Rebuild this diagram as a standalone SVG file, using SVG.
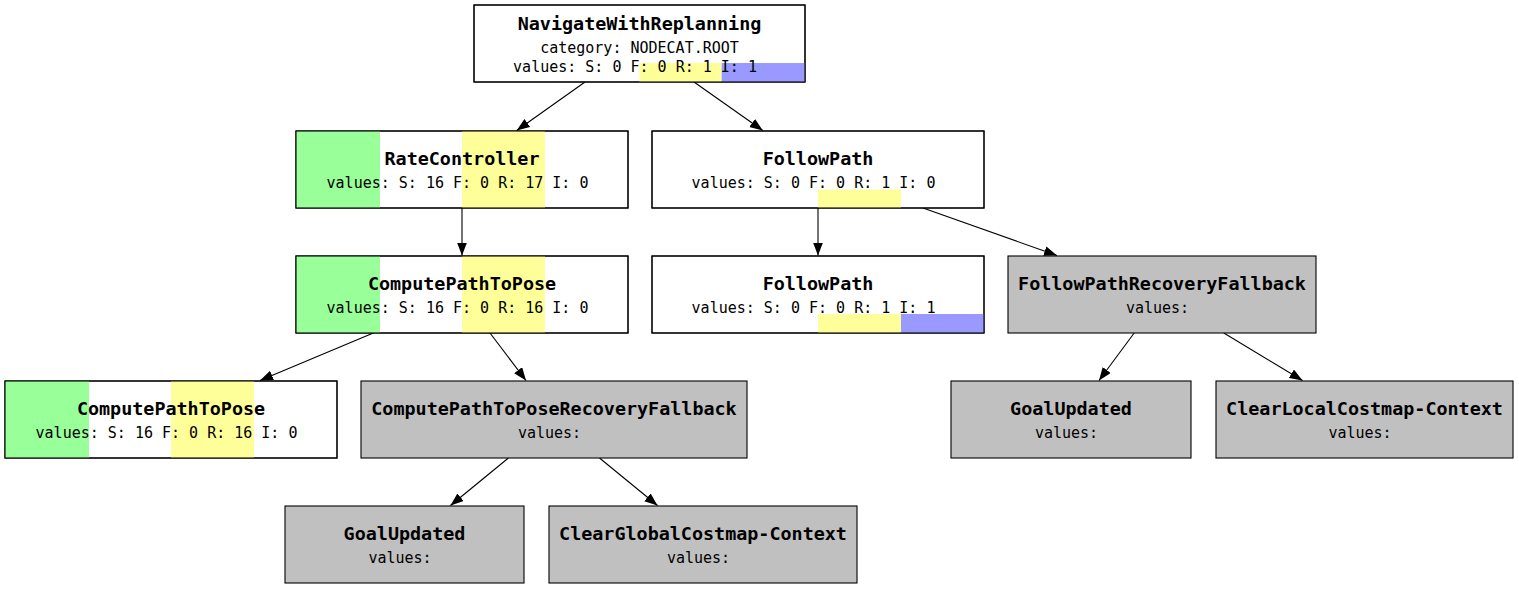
<svg xmlns="http://www.w3.org/2000/svg" width="1519" height="589" viewBox="0 0 1519 589">
<style>
.box{fill:#ffffff;stroke:#000;stroke-width:1.1}
.gbox{fill:#c0c0c0;stroke:#000;stroke-width:1.1}
.bord{fill:none;stroke:#000;stroke-width:1.1}
.g{fill:#99ff99}
.y{fill:#ffff99}
.b{fill:#9999ff}
.t{font-family:"DejaVu Sans Mono",monospace;font-weight:bold;font-size:18.4px;text-anchor:middle;fill:#000}
.v{font-family:"DejaVu Sans Mono",monospace;font-size:15px;text-anchor:middle;fill:#000}
.e{stroke:#000;stroke-width:1.1;fill:none;marker-end:url(#arr)}
</style>
<defs>
<marker id="arr" markerUnits="userSpaceOnUse" markerWidth="14" markerHeight="11" refX="13" refY="5" orient="auto">
<path d="M0,0 L13,5 L0,10 z" fill="#000"/>
</marker>
</defs>
<rect width="1519" height="589" fill="#fff"/>
<g id="connectors">
<line class="e" x1="585" y1="82" x2="516.7" y2="130.5"/>
<line class="e" x1="694" y1="82" x2="762.8" y2="130.5"/>
<line class="e" x1="462" y1="208" x2="462" y2="255.5"/>
<line class="e" x1="818" y1="208" x2="818" y2="255.5"/>
<line class="e" x1="923" y1="208" x2="1057" y2="255.5"/>
<line class="e" x1="373.3" y1="333" x2="260" y2="380.5"/>
<line class="e" x1="490" y1="333" x2="526" y2="380.5"/>
<line class="e" x1="508.4" y1="458" x2="450.5" y2="505.5"/>
<line class="e" x1="599.5" y1="458" x2="657.5" y2="505.5"/>
<line class="e" x1="1134.2" y1="333" x2="1099" y2="380.5"/>
<line class="e" x1="1223.8" y1="333" x2="1302.5" y2="380.5"/>
</g>
<g id="n_root">
<rect class="box" x="474" y="5" width="331" height="77"/>
<rect class="y" x="639.3" y="63" width="82.4" height="19"/>
<rect class="b" x="721.7" y="63" width="83.3" height="19"/>
<rect class="bord" x="474" y="5" width="331" height="77"/>
<text class="t" x="639.5" y="29.5">NavigateWithReplanning</text>
<text class="v" x="639.5" y="52.5">category: NODECAT.ROOT</text>
<text class="v" x="635" y="72">values: S: 0 F: 0 R: 1 I: 1</text>
</g>
<g id="n_ratecontroller">
<rect class="box" x="296" y="131" width="332" height="77"/>
<rect class="g" x="296" y="131" width="84" height="77"/>
<rect class="y" x="462" y="131" width="83" height="77"/>
<rect class="bord" x="296" y="131" width="332" height="77"/>
<text class="t" x="462" y="164.5">RateController</text>
<text class="v" x="457.5" y="188">values: S: 16 F: 0 R: 17 I: 0</text>
</g>
<g id="n_followpath">
<rect class="box" x="652" y="131" width="332" height="77"/>
<rect class="y" x="818" y="189.5" width="83" height="18.5"/>
<rect class="bord" x="652" y="131" width="332" height="77"/>
<text class="t" x="818" y="164.5">FollowPath</text>
<text class="v" x="813.5" y="188">values: S: 0 F: 0 R: 1 I: 0</text>
</g>
<g id="n_computepath">
<rect class="box" x="296" y="256" width="332" height="77"/>
<rect class="g" x="296" y="256" width="84" height="77"/>
<rect class="y" x="462" y="256" width="83" height="77"/>
<rect class="bord" x="296" y="256" width="332" height="77"/>
<text class="t" x="462" y="289.5">ComputePathToPose</text>
<text class="v" x="457.5" y="313">values: S: 16 F: 0 R: 16 I: 0</text>
</g>
<g id="n_followpath2">
<rect class="box" x="652" y="256" width="332" height="77"/>
<rect class="y" x="818" y="314" width="83" height="19"/>
<rect class="b" x="901" y="314" width="83" height="19"/>
<rect class="bord" x="652" y="256" width="332" height="77"/>
<text class="t" x="818" y="289.5">FollowPath</text>
<text class="v" x="813.5" y="313">values: S: 0 F: 0 R: 1 I: 1</text>
</g>
<g id="n_fprf">
<rect class="gbox" x="1008" y="256" width="308" height="77"/>
<text class="t" x="1162" y="289.5">FollowPathRecoveryFallback</text>
<text class="v" x="1157.5" y="313">values:</text>
</g>
<g id="n_computepath_leaf">
<rect class="box" x="5" y="381" width="332" height="77"/>
<rect class="g" x="5" y="381" width="84" height="77"/>
<rect class="y" x="171" y="381" width="83" height="77"/>
<rect class="bord" x="5" y="381" width="332" height="77"/>
<text class="t" x="171" y="414.5">ComputePathToPose</text>
<text class="v" x="166.5" y="438">values: S: 16 F: 0 R: 16 I: 0</text>
</g>
<g id="n_cptprf">
<rect class="gbox" x="361" y="381" width="386" height="77"/>
<text class="t" x="554" y="414.5">ComputePathToPoseRecoveryFallback</text>
<text class="v" x="549.5" y="438">values:</text>
</g>
<g id="n_goalupdated_r">
<rect class="gbox" x="951" y="381" width="240" height="77"/>
<text class="t" x="1071" y="414.5">GoalUpdated</text>
<text class="v" x="1066.5" y="438">values:</text>
</g>
<g id="n_clearlocal">
<rect class="gbox" x="1216" y="381" width="297" height="77"/>
<text class="t" x="1364.5" y="414.5">ClearLocalCostmap-Context</text>
<text class="v" x="1360" y="438">values:</text>
</g>
<g id="n_goalupdated_b">
<rect class="gbox" x="285" y="506" width="239" height="77"/>
<text class="t" x="404.5" y="539.5">GoalUpdated</text>
<text class="v" x="400" y="563">values:</text>
</g>
<g id="n_clearglobal">
<rect class="gbox" x="549" y="506" width="308" height="77"/>
<text class="t" x="703" y="539.5">ClearGlobalCostmap-Context</text>
<text class="v" x="698.5" y="563">values:</text>
</g>
</svg>
